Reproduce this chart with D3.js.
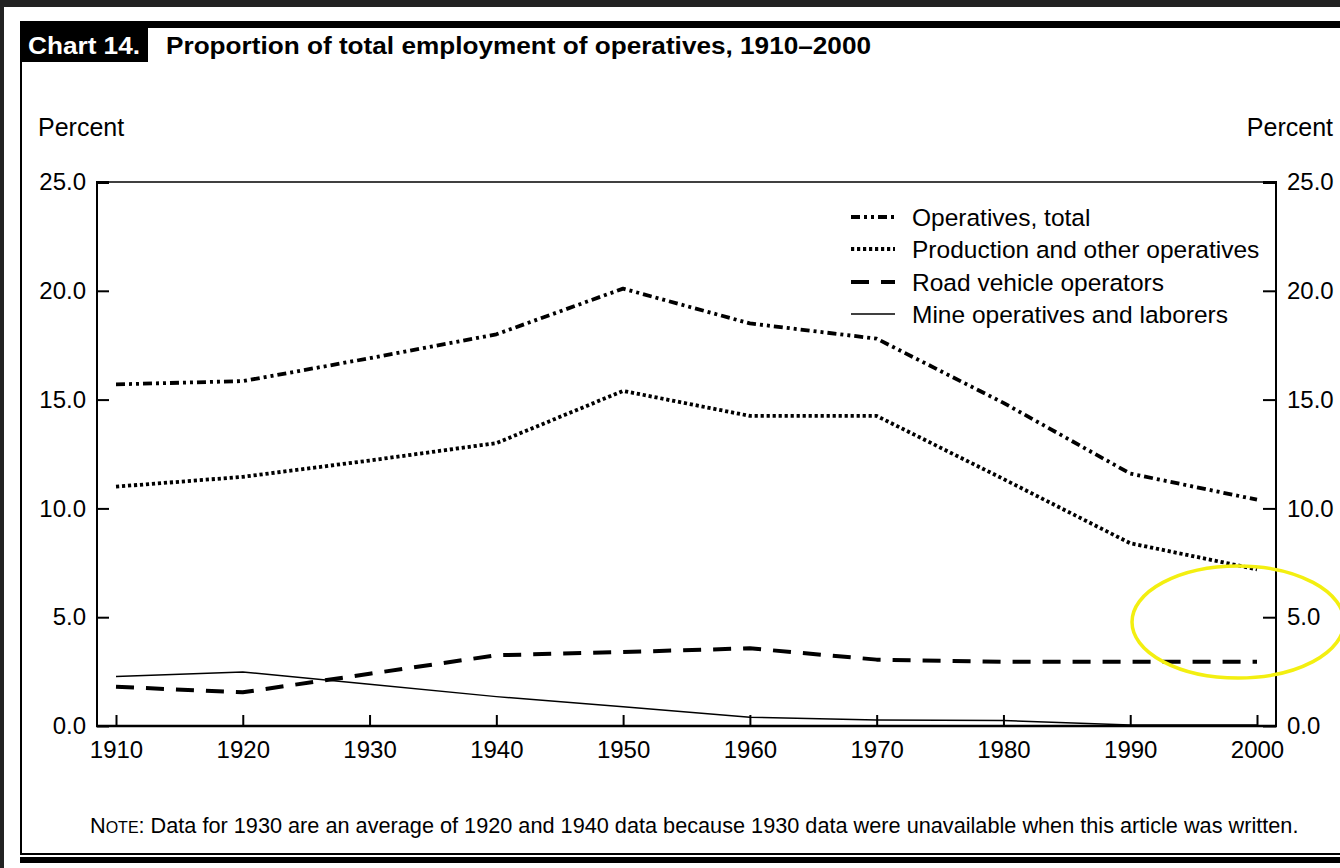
<!DOCTYPE html>
<html>
<head>
<meta charset="utf-8">
<script src="https://cdn.jsdelivr.net/npm/d3@7"></script>
<style>
  html, body { margin: 0; padding: 0; background: #fff; }
  svg { display: block; font-family: "Liberation Sans", Arial, sans-serif; }
</style>
</head>
<body>
<svg id="chart" width="1340" height="868"></svg>
<script>
// ---- Data ----
const years = [1910, 1920, 1930, 1940, 1950, 1960, 1970, 1980, 1990, 2000];
const operativesTotal = [15.7, 15.85, 16.9, 18.0, 20.1, 18.5, 17.8, 14.85, 11.6, 10.4];
const productionOther = [11.0, 11.45, 12.2, 13.0, 15.4, 14.25, 14.25, 11.35, 8.4, 7.2];
const roadVehicle = [1.8, 1.55, 2.4, 3.25, 3.4, 3.57, 3.05, 2.95, 2.95, 2.95];
const mineOperatives = [2.27, 2.48, 1.92, 1.35, 0.89, 0.4, 0.28, 0.25, 0.05, 0.05];
const seriesNames = ["Operatives, total", "Production and other operatives", "Road vehicle operators", "Mine operatives and laborers"];
const yTicks = [0, 5, 10, 15, 20, 25];
const xTicks = [1910, 1920, 1930, 1940, 1950, 1960, 1970, 1980, 1990, 2000];
const titleText = "Proportion of total employment of operatives, 1910\u20132000";
const chartLabel = "Chart 14.";
const axisLabel = "Percent";
const noteText = ":  Data for 1930 are an average of 1920 and 1940 data because 1930 data were unavailable when this article was written.";

// ---- Layout ----
const svg = d3.select("#chart");
const plot = { left: 97, right: 1276, top: 182, bottom: 726 };
const x = d3.scaleLinear().domain([1910, 2000]).range([116, 1257]);
const y = d3.scaleLinear().domain([0, 25]).range([plot.bottom, plot.top]);

// page frame
svg.append("rect").attr("x", 0).attr("y", 0).attr("width", 1340).attr("height", 7).attr("fill", "#222");
svg.append("rect").attr("x", 0).attr("y", 0).attr("width", 4).attr("height", 868).attr("fill", "#222");
svg.append("rect").attr("x", 20).attr("y", 21).attr("width", 1320).attr("height", 7).attr("fill", "#000");
svg.append("rect").attr("x", 20).attr("y", 21).attr("width", 2).attr("height", 834).attr("fill", "#000");
svg.append("rect").attr("x", 20).attr("y", 853).attr("width", 1320).attr("height", 2).attr("fill", "#000");
svg.append("rect").attr("x", 20).attr("y", 857).attr("width", 1320).attr("height", 6).attr("fill", "#000");

// title
svg.append("rect").attr("x", 22).attr("y", 28).attr("width", 126).attr("height", 34).attr("fill", "#000");
svg.append("text").attr("x", 28).attr("y", 54).attr("fill", "#fff")
  .attr("font-size", 24).attr("font-weight", "bold").attr("textLength", 112).attr("lengthAdjust", "spacingAndGlyphs")
  .text(chartLabel);
svg.append("text").attr("x", 166).attr("y", 54).attr("fill", "#000")
  .attr("font-size", 24).attr("font-weight", "bold").attr("textLength", 705).attr("lengthAdjust", "spacingAndGlyphs")
  .text(titleText);

// axis titles
svg.append("text").attr("x", 38).attr("y", 136).attr("font-size", 25).text(axisLabel);
svg.append("text").attr("x", 1333).attr("y", 136).attr("font-size", 25).attr("text-anchor", "end").text(axisLabel);

// axes
const fmtY = d3.format(".1f");
const gL = svg.append("g").attr("transform", `translate(${plot.left},0)`)
  .call(d3.axisLeft(y).tickValues(yTicks).tickFormat(fmtY).tickSizeInner(-12).tickSizeOuter(0).tickPadding(11));
const gR = svg.append("g").attr("transform", `translate(${plot.right},0)`)
  .call(d3.axisRight(y).tickValues(yTicks).tickFormat(fmtY).tickSizeInner(-13).tickSizeOuter(0).tickPadding(11));
const gB = svg.append("g").attr("transform", `translate(0,${plot.bottom})`)
  .call(d3.axisBottom(x).tickValues(xTicks).tickFormat(d3.format("d")).tickSizeInner(-11).tickSizeOuter(0).tickPadding(15));
[gL, gR, gB].forEach(g => {
  g.select(".domain").remove();
  g.selectAll(".tick line").attr("stroke", "#000").attr("stroke-width", 2);
  g.selectAll(".tick text").attr("fill", "#000").attr("font-size", 24)
    .attr("font-family", "\"Liberation Sans\", Arial, sans-serif");
});
gL.selectAll(".tick").filter(d => d === 25).select("line").attr("stroke-width", 3);
gR.selectAll(".tick").filter(d => d === 25).select("line").attr("stroke-width", 3);

// plot frame
svg.append("line").attr("x1", plot.left).attr("x2", plot.right).attr("y1", plot.top).attr("y2", plot.top)
  .attr("stroke", "#000").attr("stroke-width", 1.5);
svg.append("line").attr("x1", plot.left).attr("x2", plot.left).attr("y1", plot.top - 1).attr("y2", plot.bottom + 1)
  .attr("stroke", "#000").attr("stroke-width", 2);
svg.append("line").attr("x1", plot.right).attr("x2", plot.right).attr("y1", plot.top - 1).attr("y2", plot.bottom + 1)
  .attr("stroke", "#000").attr("stroke-width", 2);
svg.append("line").attr("x1", plot.left - 1).attr("x2", plot.right + 1).attr("y1", plot.bottom).attr("y2", plot.bottom)
  .attr("stroke", "#000").attr("stroke-width", 2.5);

// series
const styles = [
  { values: operativesTotal, dash: "9,4,3,4,3,4", width: 3.8 },
  { values: productionOther, dash: "3.2,2.8", width: 3.8 },
  { values: roadVehicle, dash: "18,12", width: 4 },
  { values: mineOperatives, dash: null, width: 1.5 }
];
const line = d3.line().x(d => x(d[0])).y(d => y(d[1]));
styles.forEach(s => {
  svg.append("path")
    .datum(years.map((yr, i) => [yr, s.values[i]]))
    .attr("d", line)
    .attr("fill", "none")
    .attr("stroke", "#000")
    .attr("stroke-width", s.width)
    .attr("stroke-dasharray", s.dash)
    .attr("stroke-linejoin", "round");
});

// legend
const leg = svg.append("g");
const legRowY = [217, 249, 282, 314];
seriesNames.forEach((name, i) => {
  leg.append("line").attr("x1", 851).attr("x2", 895).attr("y1", legRowY[i]).attr("y2", legRowY[i])
    .attr("stroke", "#000").attr("stroke-width", styles[i].width)
    .attr("stroke-dasharray", styles[i].dash);
  leg.append("text").attr("x", 912).attr("y", legRowY[i]).attr("dy", "0.35em").attr("font-size", 24.5).text(name);
});

// note
const note = svg.append("text").attr("x", 90).attr("y", 833).attr("font-size", 21.7);
note.append("tspan").text("N");
note.append("tspan").attr("font-size", 16).text("OTE");
note.append("tspan").text(noteText);

// yellow annotation ellipse
svg.append("ellipse").attr("cx", 1238).attr("cy", 622).attr("rx", 106).attr("ry", 56)
  .attr("fill", "none").attr("stroke", "#f3ef10").attr("stroke-width", 3.5);
</script>
</body>
</html>
